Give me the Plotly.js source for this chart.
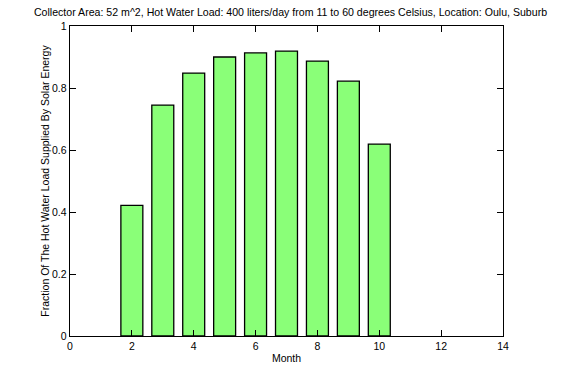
<!DOCTYPE html>
<html>
<head>
<meta charset="utf-8">
<script src="https://cdn.plot.ly/plotly-3.0.1.min.js"></script>
<style>html,body{margin:0;padding:0;background:#fff;}#chart{width:581px;height:388px;}</style>
</head>
<body>
<div id="chart"></div>
<script>
var months = [2, 3, 4, 5, 6, 7, 8, 9, 10];
var fraction = [0.4215, 0.745, 0.848, 0.900, 0.913, 0.919, 0.887, 0.822, 0.619];
var xTicks = [0, 2, 4, 6, 8, 10, 12, 14];
var yTicks = [0, 0.2, 0.4, 0.6, 0.8, 1];
var yTickLabels = ['0', '0.2', '0.4', '0.6', '0.8', '1'];

var trace = {
  type: 'bar',
  x: months,
  y: fraction,
  width: 0.71,
  marker: {color: 'rgb(138,255,120)', line: {color: '#000', width: 1.3}},
  hoverinfo: 'skip'
};

var layout = {
  width: 581, height: 388,
  margin: {l: 69.5, r: 77.7, t: 26.3, b: 52, pad: 0},
  paper_bgcolor: '#fff', plot_bgcolor: '#fff',
  font: {family: 'Liberation Sans, Arial, sans-serif', size: 10.5, color: '#000'},
  showlegend: false,
  title: {text: 'Collector Area: 52 m^2, Hot Water Load: 400 liters/day from 11 to 60 degrees Celsius, Location: Oulu, Suburb',
          font: {size: 10.6}, x: 0.5, xanchor: 'center', y: 0.969, yanchor: 'middle'},
  xaxis: {
    range: [0, 14], tickvals: xTicks, ticktext: xTicks.map(String),
    ticks: 'inside', ticklen: 6, tickwidth: 1, tickcolor: '#000',
    showline: true, linecolor: '#000', linewidth: 1.3, mirror: 'ticks',
    showgrid: false, zeroline: false, fixedrange: true,
    title: {text: 'Month', font: {size: 10.5}, standoff: 3}
  },
  yaxis: {
    range: [0, 1], tickvals: yTicks, ticktext: yTickLabels,
    ticks: 'inside', ticklen: 6, tickwidth: 1, tickcolor: '#000',
    showline: true, linecolor: '#000', linewidth: 1.3, mirror: 'ticks',
    showgrid: false, zeroline: false, fixedrange: true,
    title: {text: 'Fraction Of The Hot Water Load Supplied By Solar Energy', font: {size: 10.5}, standoff: 0}
  }
};

Plotly.newPlot('chart', [trace], layout, {displayModeBar: false, staticPlot: true});
</script>
</body>
</html>
